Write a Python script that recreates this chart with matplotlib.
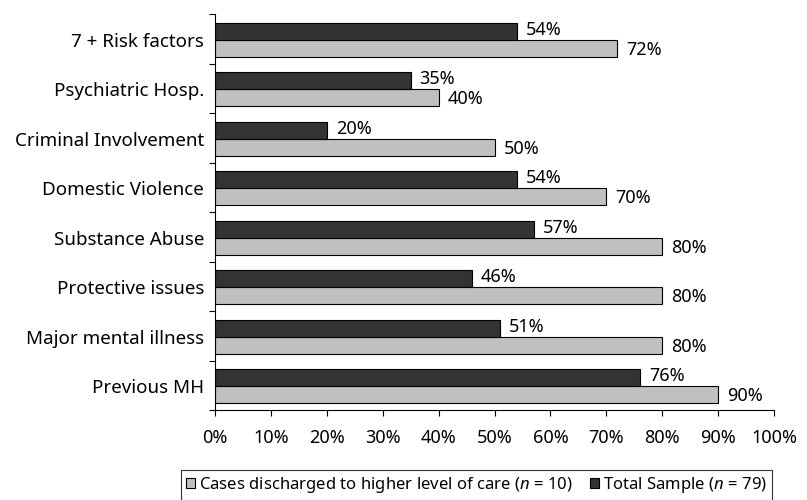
import matplotlib
matplotlib.use("Agg")
import matplotlib.pyplot as plt
from matplotlib.ticker import FixedLocator
import numpy as np

plt.rcParams['font.family'] = ['Noto Sans', 'DejaVu Sans']
plt.rcParams['mathtext.fontset'] = 'custom'
plt.rcParams['mathtext.it'] = 'Noto Sans:italic'
plt.rcParams['mathtext.rm'] = 'Noto Sans'

categories = ["7 + Risk factors", "Psychiatric Hosp.", "Criminal Involvement",
              "Domestic Violence", "Substance Abuse", "Protective issues",
              "Major mental illness", "Previous MH"]
higher_care = [72, 40, 50, 70, 80, 80, 80, 90]
total_sample = [54, 35, 20, 54, 57, 46, 51, 76]
xticks = [0, 10, 20, 30, 40, 50, 60, 70, 80, 90, 100]

light = "#c0c0c0"
dark = "#333333"
fs = 13

fig = plt.figure(figsize=(8.07, 5.0), dpi=100)
ax = fig.add_axes([215/807, 1-410/500, (774-215)/807, (410-14)/500])

n = len(categories)
y = np.arange(n)[::-1].astype(float) - 0.02
h = 0.345

b1 = ax.barh(y - h/2, higher_care, height=h, color=light, edgecolor="black", linewidth=0.8,
             label=r"Cases discharged to higher level of care ($\it{n}$ = 10)")
b2 = ax.barh(y + h/2, total_sample, height=h, color=dark, edgecolor="black", linewidth=0.8,
             label=r"Total Sample ($\it{n}$ = 79)")

for yy, v in zip(y, total_sample):
    ax.text(v + 1.6, yy + h/2 + 0.03, f"{v}%", va="center", ha="left", fontsize=fs)
for yy, v in zip(y, higher_care):
    ax.text(v + 1.6, yy - h/2 - 0.03, f"{v}%", va="center", ha="left", fontsize=fs)

ax.set_xlim(0, 100)
ax.set_ylim(-0.5, n - 0.5)
ax.set_xticks(xticks)
ax.set_xticklabels([f"{t}%" for t in xticks], fontsize=fs)
ax.set_yticks(y)
ax.set_yticklabels(categories, fontsize=13.5)
ax.yaxis.set_minor_locator(FixedLocator(np.arange(n + 1) - 0.5))
ax.tick_params(axis="y", which="major", length=0, pad=8)
ax.tick_params(axis="y", which="minor", length=4, width=0.8, direction="out")
ax.tick_params(axis="x", length=4, width=0.8, direction="out", pad=10)
for s in ["top", "right"]:
    ax.spines[s].set_visible(False)
for s in ["left", "bottom"]:
    ax.spines[s].set_linewidth(0.8)
    ax.spines[s].set_color("black")

leg = fig.legend(handles=[b1, b2], loc="center", bbox_to_anchor=(476.5/807, 1-485/500),
                 ncol=2, fontsize=12, frameon=True, fancybox=False, edgecolor="black",
                 handlelength=0.55, handleheight=0.55, handletextpad=0.25, columnspacing=1.0,
                 borderpad=0.3, borderaxespad=0)
leg.get_frame().set_linewidth(0.8)

fig.savefig("out.png", dpi=100)
